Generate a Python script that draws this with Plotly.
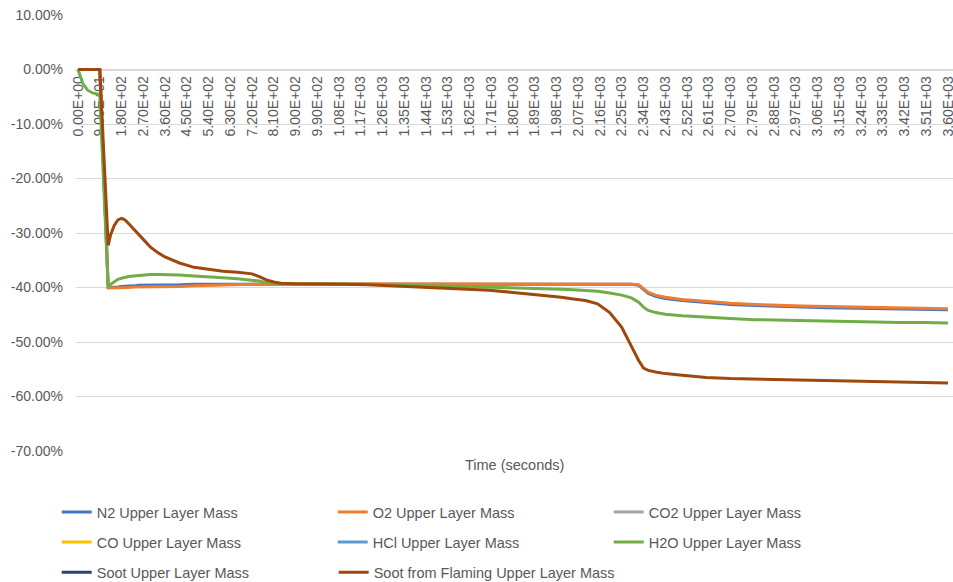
import plotly.graph_objects as go

# Time grid (s) shared by every series
time_s = [0, 20, 40, 60, 90, 125, 135, 150, 165, 180, 195, 210, 230, 250, 275,
          300, 330, 360, 420, 480, 540, 600, 660, 720, 750, 780, 810, 840, 900,
          1000, 1100, 1200, 1300, 1400, 1500, 1600, 1700, 1800, 1900, 2000,
          2050, 2100, 2150, 2200, 2250, 2290, 2320, 2340, 2360, 2390, 2430,
          2500, 2600, 2700, 2800, 2900, 3000, 3100, 3200, 3300, 3400, 3500,
          3600]

# Percentage change of upper layer mass for each species
n2_pct = [0, 0, 0, 0, 0, -40.0, -40.0, -39.9, -39.9, -39.8, -39.8, -39.7,
          -39.7, -39.6, -39.6, -39.6, -39.5, -39.5, -39.5, -39.4, -39.4, -39.4,
          -39.3, -39.3, -39.3, -39.3, -39.3, -39.3, -39.3, -39.3, -39.3, -39.3,
          -39.3, -39.3, -39.3, -39.3, -39.3, -39.3, -39.3, -39.3, -39.3, -39.3,
          -39.3, -39.4, -39.4, -39.4, -39.6, -40.4, -41.1, -41.6, -42.0, -42.4,
          -42.8, -43.1, -43.3, -43.5, -43.6, -43.7, -43.8, -43.9, -43.9, -44.0,
          -44.1]
o2_pct = [0, 0, 0, 0, 0, -40.1, -40.1, -40.1, -40.0, -40.0, -40.0, -40.0,
          -39.9, -39.9, -39.9, -39.9, -39.8, -39.8, -39.8, -39.7, -39.6, -39.6,
          -39.5, -39.4, -39.4, -39.3, -39.3, -39.3, -39.3, -39.3, -39.3, -39.3,
          -39.3, -39.3, -39.3, -39.3, -39.3, -39.3, -39.3, -39.3, -39.3, -39.3,
          -39.3, -39.3, -39.4, -39.4, -39.5, -40.2, -40.9, -41.4, -41.8, -42.2,
          -42.6, -42.9, -43.1, -43.3, -43.4, -43.5, -43.6, -43.7, -43.7, -43.8,
          -43.9]
# No initial mass of these species, so no percentage change is defined
co2_pct = [None]
co_pct = [None]
hcl_pct = [None]
soot_pct = [None]
h2o_pct = [0, -2.6, -3.8, -4.3, -4.6, -40.0, -39.4, -38.9, -38.5, -38.3, -38.1,
           -38.0, -37.9, -37.8, -37.7, -37.6, -37.6, -37.6, -37.7, -37.9, -38.0,
           -38.2, -38.4, -38.6, -38.8, -39.1, -39.2, -39.3, -39.3, -39.3, -39.3,
           -39.4, -39.5, -39.6, -39.7, -39.8, -39.9, -40.0, -40.1, -40.3, -40.4,
           -40.5, -40.7, -41.0, -41.4, -41.9, -42.7, -43.6, -44.2, -44.6, -44.9,
           -45.2, -45.5, -45.7, -45.9, -46.0, -46.1, -46.2, -46.2, -46.3, -46.4,
           -46.4, -46.5]
soot_flaming_pct = [0, 0, 0, 0, 0, -32.3, -30.3, -28.6, -27.6, -27.3, -27.6,
                    -28.3, -29.2, -30.1, -31.4, -32.6, -33.6, -34.4, -35.5,
                    -36.3, -36.7, -37.0, -37.2, -37.5, -38.0, -38.6, -39.0,
                    -39.2, -39.3, -39.3, -39.4, -39.5, -39.7, -39.9, -40.1,
                    -40.3, -40.5, -40.9, -41.3, -41.8, -42.1, -42.4, -43.0,
                    -44.6, -47.3, -50.8, -53.4, -54.8, -55.2, -55.5, -55.8,
                    -56.1, -56.5, -56.7, -56.8, -56.9, -57.0, -57.1, -57.2,
                    -57.2, -57.3, -57.4, -57.5]

# Axis ticks
x_tick_vals = list(range(0, 3601, 90))
x_tick_text = [f"{v:.2E}" for v in x_tick_vals]
y_tick_vals = [10, 0, -10, -20, -30, -40, -50, -60, -70]
y_tick_text = ["10.00%", "0.00%", "-10.00%", "-20.00%", "-30.00%", "-40.00%",
               "-50.00%", "-60.00%", "-70.00%"]

# name, values, colour, legend box (three rows of three columns)
series = [
    ("N2 Upper Layer Mass", n2_pct, "#4472C4", "legend"),
    ("O2 Upper Layer Mass", o2_pct, "#ED7D31", "legend"),
    ("CO2 Upper Layer Mass", co2_pct, "#A5A5A5", "legend"),
    ("CO Upper Layer Mass", co_pct, "#FFC000", "legend2"),
    ("HCl Upper Layer Mass", hcl_pct, "#5B9BD5", "legend2"),
    ("H2O Upper Layer Mass", h2o_pct, "#70AD47", "legend2"),
    ("Soot Upper Layer Mass", soot_pct, "#264478", "legend3"),
    ("Soot from Flaming Upper Layer Mass", soot_flaming_pct, "#9E480E", "legend4"),
]

FONT = "Liberation Sans, Arial, sans-serif"
TXT = "#595959"

fig = go.Figure()
for name, vals, color, leg in series:
    fig.add_trace(go.Scatter(
        x=time_s[:len(vals)], y=vals, name=name, mode="lines",
        line=dict(color=color, width=3), legend=leg,
    ))

fig.update_layout(
    width=953, height=582,
    margin=dict(l=76, r=0, t=15, b=131, autoexpand=False),
    plot_bgcolor="white", paper_bgcolor="white",
    font=dict(family=FONT, size=14, color=TXT),
    xaxis=dict(
        range=[-8.3, 3620.7], tickvals=x_tick_vals, ticktext=x_tick_text,
        tickangle=-90, anchor="free", position=0.875, showgrid=False,
        zeroline=False, showline=True, linecolor="#D9D9D9", ticks="",
        layer="below traces", ticklabeloverflow="allow",
        tickfont=dict(size=14, color=TXT),
    ),
    yaxis=dict(
        range=[-70, 10], tickvals=y_tick_vals, ticktext=y_tick_text,
        showgrid=True, gridcolor="#D9D9D9", gridwidth=1, zeroline=False,
        ticks="", ticklabelstandoff=12, tickfont=dict(size=14, color=TXT),
    ),
    annotations=[dict(
        text="Time (seconds)", x=0.5, y=-0.032, xref="paper", yref="paper",
        xanchor="center", yanchor="middle", showarrow=False,
        font=dict(size=14.5, color=TXT),
    )],
)

legend_common = dict(
    orientation="h", xanchor="left", yanchor="middle",
    entrywidthmode="pixels", itemwidth=30,
    bgcolor="rgba(0,0,0,0)", font=dict(size=14.5, color=TXT),
)
fig.update_layout(
    legend=dict(x=-0.022, y=-0.140, entrywidth=231, **legend_common),
    legend2=dict(x=-0.022, y=-0.209, entrywidth=231, **legend_common),
    legend3=dict(x=-0.022, y=-0.278, entrywidth=231, **legend_common),
    legend4=dict(x=0.2938, y=-0.278, entrywidth=0, **legend_common),
)

fig.write_html("out.html")
